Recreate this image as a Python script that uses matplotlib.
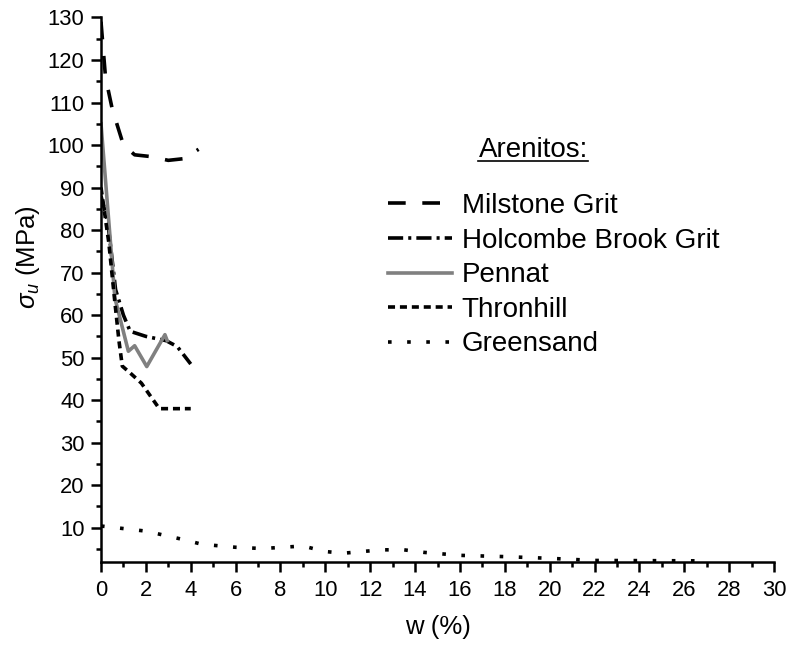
import numpy as np
import matplotlib
matplotlib.use('Agg')
import matplotlib.pyplot as plt
from matplotlib.lines import Line2D
from matplotlib.ticker import MultipleLocator

plt.rcParams['font.family'] = ['Liberation Sans', 'DejaVu Sans']
plt.rcParams['mathtext.fontset'] = 'custom'
plt.rcParams['mathtext.rm'] = 'Liberation Sans'
plt.rcParams['mathtext.it'] = 'Liberation Sans:italic'

# dados (w em %, sigma_u em MPa)
milstone_w = [0, 0.2, 0.5, 1.0, 1.5, 2.2, 3.0, 3.7, 4.35]
milstone_s = [129, 116, 108.5, 100, 97.7, 97.3, 96.4, 96.8, 99]

holcombe_w = [0, 0.3, 0.65, 1.0, 1.3, 2.0, 2.9, 3.4, 4.0]
holcombe_s = [88, 82, 66, 60, 56.2, 55, 54, 52.6, 48.5]

pennat_w = [0, 0.62, 1.22, 1.5, 2.04, 2.85, 2.95]
pennat_s = [105, 64, 51.5, 52.8, 47.9, 55.4, 54]

thronhill_w = [0, 0.35, 0.6, 0.8, 0.95, 1.3, 1.8, 2.2, 2.6, 4.0]
thronhill_s = [90, 77, 64, 54, 48, 46.4, 44, 41, 38, 38]

greensand_w = [0, 2, 3.6, 4.5, 6, 7.2, 9, 10, 10.8, 12.5, 13.5, 14.4,
               16, 18, 20, 22, 27.1]
greensand_s = [10.4, 9.2, 7.3, 6.1, 5.4, 5.1, 5.7, 4.4, 4.0, 4.8, 4.8, 4.2,
               3.5, 3.2, 2.8, 2.3, 2.2]

nomes = ['Milstone Grit', 'Holcombe Brook Grit', 'Pennat', 'Thronhill', 'Greensand']

fig = plt.figure(figsize=(7.89, 6.5), dpi=100)
ax = fig.add_axes([0.128, 0.1358, 0.853, 0.8373])

lw = 2.6
l1, = ax.plot(milstone_w, milstone_s, color='black', lw=lw, ls=(0, (4.9, 4.6)))
l2, = ax.plot(holcombe_w, holcombe_s, color='black', lw=lw, ls=(0, (4.2, 1.4, 0.85, 1.4)))
l3, = ax.plot(pennat_w, pennat_s, color='#808080', lw=lw)
l4, = ax.plot(thronhill_w, thronhill_s, color='black', lw=lw, ls=(0, (1.95, 1.35)))
l5, = ax.plot(greensand_w, greensand_s, color='black', lw=lw, ls=(0, (1.0, 4.3)))

ax.set_xlim(0, 30)
ax.set_ylim(2, 130)
ax.xaxis.set_major_locator(MultipleLocator(2))
ax.xaxis.set_minor_locator(MultipleLocator(1))
ax.yaxis.set_major_locator(MultipleLocator(10))
ax.yaxis.set_minor_locator(MultipleLocator(5))
ax.set_yticks(np.arange(10, 131, 10))

for s in ['top', 'right']:
    ax.spines[s].set_visible(False)
for s in ['left', 'bottom']:
    ax.spines[s].set_linewidth(1.8)

ax.tick_params(which='major', direction='out', length=7.5, width=1.8,
               labelsize=15.8)
ax.tick_params(axis='y', which='major', pad=4.3)
ax.tick_params(axis='x', which='major', pad=5.5)
ax.tick_params(which='minor', direction='out', length=3.6, width=1.8)

ax.set_xlabel('w (%)', fontsize=18.5)
ax.set_ylabel(r'$\sigma_{u}$ (MPa)', fontsize=18.5)
ax.xaxis.set_label_coords(0.5, -0.098)
ax.yaxis.set_label_coords(-0.0877, 0.56)

titulo = ax.text(0.642, 0.7565, 'Arenitos:', transform=ax.transAxes,
                 fontsize=20, ha='center', va='center')

ax.legend([l1, l2, l3, l4, l5], nomes, loc='upper left', frameon=False,
          bbox_to_anchor=(0.4264, 0.6775), fontsize=20, handlelength=2.3,
          handletextpad=0.35, labelspacing=0.31, borderaxespad=0, borderpad=0)

# sublinhado do titulo
fig.canvas.draw()
bb = titulo.get_window_extent()
inv = fig.transFigure.inverted()
(x0, y0), (x1, _) = inv.transform([(bb.x0, bb.y0 + 2), (bb.x1, bb.y0 + 2)])
fig.add_artist(Line2D([x0, x1], [y0, y0], color='black', lw=1.2,
                      transform=fig.transFigure))

plt.savefig('out.png', dpi=100)
